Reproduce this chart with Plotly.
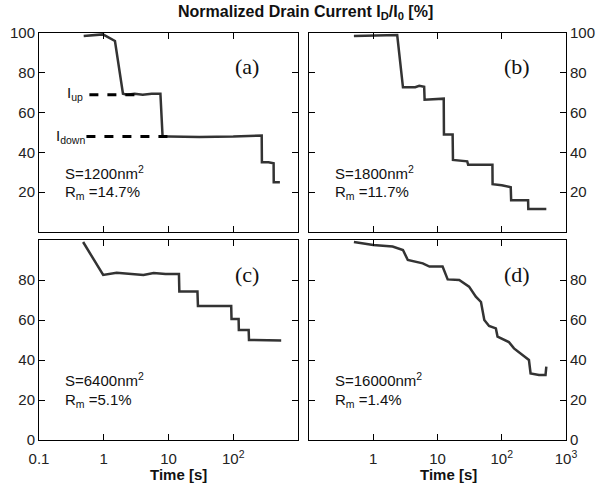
import plotly.graph_objects as go
from plotly.subplots import make_subplots

# panel (a) S=1200nm2
t_a = [0.49, 0.97, 1.49, 1.98, 2.3, 3.0, 4.0, 5.5, 7.5, 8.1, 10, 30, 100, 200, 275, 277, 350, 420, 422, 525]
i_a = [98.5, 99.3, 96, 69.5, 69, 69.5, 69, 69.5, 69.5, 48, 48, 47.8, 48, 48.3, 48.5, 35, 35, 34.5, 25, 25]

# panel (b) S=1800nm2
t_b = [0.5, 2.36, 2.9, 4.5, 5.2, 6.2, 6.3, 12.5, 12.6, 17.2, 17.4, 29, 30, 71.6, 72, 100, 138, 140, 257, 259, 494]
i_b = [98.5, 99, 72.7, 72.8, 73.5, 73, 66.5, 67, 49, 49, 36.2, 35.5, 33.8, 33.8, 24, 23.5, 22.5, 16, 16, 11.5, 11.5]

# panel (c) S=6400nm2
t_c = [0.48, 0.98, 1.58, 2.5, 4.1, 5.9, 9, 14.5, 14.7, 28, 28.5, 93, 94, 121, 122, 173, 175, 550]
i_c = [99, 82.5, 83.6, 83, 82.5, 83.5, 83, 83, 74.3, 74.3, 67, 67, 60.5, 60.5, 55, 55, 50, 49.8]

# panel (d) S=16000nm2
t_d = [0.5, 1.0, 2.0, 2.9, 3.45, 5.9, 7.5, 12, 14.4, 21.8, 31, 39.5, 47.5, 53.5, 63.5, 81, 86,
       129, 155, 209, 265, 281, 380, 480, 494]
i_d = [99, 97.5, 96.7, 95, 90, 88.3, 86.7, 86.7, 80.3, 80, 76.7, 71.7, 69, 60, 57, 55.8, 51.7,
       49, 45.8, 42.5, 40, 33.3, 32.5, 32.5, 36.7]

# reference levels drawn in panel (a)
t_up = [0.6, 4.1]
i_up = [69, 69]
t_down = [0.54, 11.5]
i_down = [48, 48]

panels = [(t_a, i_a), (t_b, i_b), (t_c, i_c), (t_d, i_d)]
labels = ["(a)", "(b)", "(c)", "(d)"]
areas = ["1200", "1800", "6400", "16000"]
rms = ["14.7", "11.7", "5.1", "1.4"]

W, H = 597, 493
FONT = "Liberation Sans, Arial, sans-serif"
LINE = "#333333"

fig = make_subplots(rows=2, cols=2)

for k, (t, i) in enumerate(panels):
    r, c = k // 2 + 1, k % 2 + 1
    fig.add_trace(go.Scatter(x=t, y=i, mode="lines", line=dict(color=LINE, width=2.5),
                             showlegend=False), row=r, col=c)

fig.add_trace(go.Scatter(x=t_up, y=i_up, mode="lines",
                         line=dict(color="black", width=3, dash="dash"), showlegend=False), row=1, col=1)
fig.add_trace(go.Scatter(x=t_down, y=i_down, mode="lines",
                         line=dict(color="black", width=3, dash="dash"), showlegend=False), row=1, col=1)

# pixel domains
xdom = [(39, 298), (309, 566)]
ydom = [(33, 232), (240, 440)]


def px_x(a, b):
    return [a / W, b / W]


def px_y(a, b):
    return [(H - b) / H, (H - a) / H]


axis_common = dict(showline=True, linecolor="black", linewidth=1, mirror="ticks",
                   ticks="inside", ticklen=6, tickcolor="black", showgrid=False,
                   zeroline=False, automargin=False,
                   tickfont=dict(family=FONT, size=15, color="#222"))

for k in range(4):
    r, c = k // 2, k % 2
    xa = "xaxis" if k == 0 else "xaxis%d" % (k + 1)
    ya = "yaxis" if k == 0 else "yaxis%d" % (k + 1)
    bottom = r == 1
    if c == 0:
        xt = ["0.1", "1", "10", "10<sup>2</sup>"]
        xv = [0.1, 1, 10, 100]
    else:
        xt = ["1", "10", "10<sup>2</sup>", "10<sup>3</sup>"]
        xv = [1, 10, 100, 1000]
    fig.update_layout({
        xa: dict(axis_common, type="log", range=[-1, 3], domain=px_x(*xdom[c]),
                 tickvals=xv, ticktext=xt if bottom else [""] * 4, ticklabelstandoff=5),
        ya: dict(axis_common, range=[0, 100], domain=px_y(*ydom[r]),
                 tickvals=[0, 20, 40, 60, 80] if bottom else [20, 40, 60, 80, 100],
                 side="left" if c == 0 else "right"),
    })

    # panel letter
    fig.add_annotation(xref="paper", yref="paper", x=(xdom[c][0] + 208) / W,
                       y=(H - (ydom[r][0] + 34)) / H, text=labels[k], showarrow=False,
                       font=dict(family="Liberation Serif, Times New Roman, serif", size=22, color="#111"),
                       xanchor="center", yanchor="middle")
    # sample description
    fig.add_annotation(xref="paper", yref="paper", x=(xdom[c][0] + 24) / W,
                       y=(H - (ydom[r][0] + 139)) / H,
                       text="S=%snm<sup>2</sup>" % areas[k], showarrow=False,
                       font=dict(family=FONT, size=15, color="#111"), xanchor="left", yanchor="middle")
    fig.add_annotation(xref="paper", yref="paper", x=(xdom[c][0] + 24) / W,
                       y=(H - (ydom[r][0] + 160)) / H,
                       text="R<sub>m</sub> =%s%%" % rms[k], showarrow=False,
                       font=dict(family=FONT, size=15, color="#111"), xanchor="left", yanchor="middle")

# x axis titles
for cx in (178, 448):
    fig.add_annotation(xref="paper", yref="paper", x=cx / W, y=(H - 474) / H,
                       text="<b>Time [s]</b>", showarrow=False,
                       font=dict(family=FONT, size=15, color="#111"),
                       xanchor="center", yanchor="middle")

fig.add_annotation(xref="paper", yref="paper", x=75 / W, y=(H - 94) / H, text="I<sub>up</sub>",
                   showarrow=False, font=dict(family=FONT, size=15, color="#111"),
                   xanchor="center", yanchor="middle")
fig.add_annotation(xref="paper", yref="paper", x=70 / W, y=(H - 137) / H, text="I<sub>down</sub>",
                   showarrow=False, font=dict(family=FONT, size=15, color="#111"),
                   xanchor="center", yanchor="middle")

fig.add_annotation(xref="paper", yref="paper", x=305 / W, y=(H - 12) / H,
                   text="<b>Normalized Drain Current I<sub>D</sub>/I<sub>0</sub> [%]</b>",
                   showarrow=False, font=dict(family=FONT, size=16, color="#111"),
                   xanchor="center", yanchor="middle")

fig.update_layout(width=W, height=H, margin=dict(l=0, r=0, t=0, b=0),
                  plot_bgcolor="white", paper_bgcolor="white")

# drop the default 8px page margin so the figure sits at the window's corner
fig.write_html("out.html", config={"displayModeBar": False},
               post_script="document.body.style.margin='0';")
